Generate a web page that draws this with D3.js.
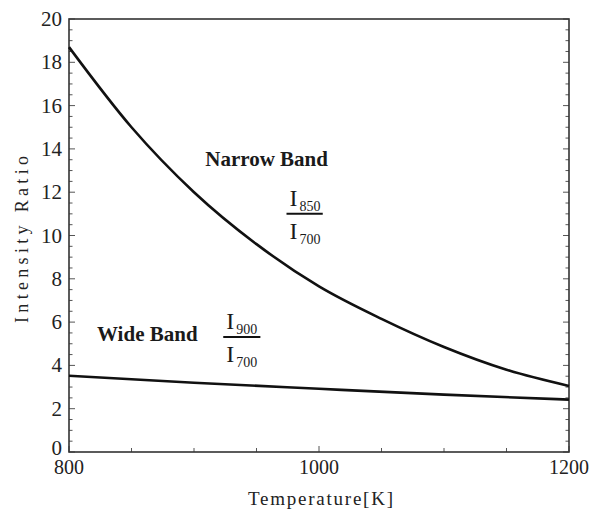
<!DOCTYPE html>
<html>
<head>
<meta charset="utf-8">
<script src="https://cdn.jsdelivr.net/npm/d3@7"></script>
<style>
  body { margin: 0; background: #fff; }
  svg { display: block; }
  .serif { font-family: "Liberation Serif", "Times New Roman", serif; }
</style>
</head>
<body>
<div id="chart"></div>
<script>
// values
var temps = [800, 850, 900, 950, 1000, 1050, 1100, 1150, 1200];
var narrowBand = [18.7, 15.0, 12.0, 9.6, 7.65, 6.15, 4.85, 3.8, 3.05];
var wideTemps = [800, 900, 1000, 1100, 1200];
var wideBand = [3.52, 3.2, 2.92, 2.65, 2.42];
var xTicks = [800, 1000, 1200];
var yTicks = [0, 2, 4, 6, 8, 10, 12, 14, 16, 18, 20];

var width = 601;
var height = 510;
var margin = { top: 19, right: 32, bottom: 58, left: 69 };

var svg = d3
  .select("#chart")
  .append("svg")
  .attr("width", width)
  .attr("height", height);

var x = d3
  .scaleLinear()
  .domain([800, 1200])
  .range([margin.left, width - margin.right]);
var y = d3
  .scaleLinear()
  .domain([0, 20])
  .range([height - margin.bottom, margin.top]);

var frameColor = "#333";

// minor ticks, inward on every side with an axis
var yMinor = d3.range(0, 20.01, 0.5);
var xMinor = d3.range(800, 1200.01, 50);

svg
  .selectAll(".ytick")
  .data(yMinor)
  .enter()
  .append("g")
  .each(function(d) {
    var len = d % 2 == 0 ? 6 : 3.5;
    var g = d3.select(this);
    g.append("line")
      .attr("x1", x(800))
      .attr("x2", x(800) + len)
      .attr("y1", y(d))
      .attr("y2", y(d));
    g.append("line")
      .attr("x1", x(1200))
      .attr("x2", x(1200) - len)
      .attr("y1", y(d))
      .attr("y2", y(d));
  })
  .selectAll("line")
  .attr("stroke", "#555")
  .attr("stroke-width", 1);

svg
  .selectAll(".xtick")
  .data(xMinor)
  .enter()
  .append("line")
  .attr("x1", function(d) { return x(d); })
  .attr("x2", function(d) { return x(d); })
  .attr("y1", y(0))
  .attr("y2", function(d) { return y(0) - (d % 200 == 0 ? 6 : 4); })
  .attr("stroke", "#555")
  .attr("stroke-width", 1);

// frame
svg
  .append("rect")
  .attr("x", x(800))
  .attr("y", y(20))
  .attr("width", x(1200) - x(800))
  .attr("height", y(0) - y(20))
  .attr("fill", "none")
  .attr("stroke", frameColor)
  .attr("stroke-width", 1.6);

// tick labels
svg
  .selectAll(".ylab")
  .data(yTicks)
  .enter()
  .append("text")
  .attr("class", "serif")
  .attr("x", x(800) - 7)
  .attr("y", function(d) { return y(d) + (d == 0 ? 3 : 7); })
  .attr("text-anchor", "end")
  .attr("font-size", 21)
  .attr("fill", "#222")
  .text(function(d) { return d; });

svg
  .selectAll(".xlab")
  .data(xTicks)
  .enter()
  .append("text")
  .attr("class", "serif")
  .attr("x", function(d) { return x(d); })
  .attr("y", y(0) + 22)
  .attr("text-anchor", "middle")
  .attr("font-size", 20)
  .attr("fill", "#222")
  .text(function(d) { return d; });

// axis titles
svg
  .append("text")
  .attr("class", "serif")
  .attr("transform", "translate(28," + (y(10) + 4) + ") rotate(-90)")
  .attr("text-anchor", "middle")
  .attr("font-size", 18)
  .attr("textLength", 167)
  .attr("lengthAdjust", "spacing")
  .attr("fill", "#222")
  .text("Intensity Ratio");

svg
  .append("text")
  .attr("class", "serif")
  .attr("x", 248)
  .attr("y", 505)
  .attr("font-size", 19)
  .attr("textLength", 145)
  .attr("lengthAdjust", "spacing")
  .attr("fill", "#222")
  .text("Temperature[K]");

// curves
var line = d3
  .line()
  .x(function(d) { return x(d[0]); })
  .y(function(d) { return y(d[1]); })
  .curve(d3.curveMonotoneX);

svg
  .append("path")
  .datum(d3.zip(temps, narrowBand))
  .attr("d", line)
  .attr("fill", "none")
  .attr("stroke", "#111")
  .attr("stroke-width", 2.6);

svg
  .append("path")
  .datum(d3.zip(wideTemps, wideBand))
  .attr("d", line)
  .attr("fill", "none")
  .attr("stroke", "#111")
  .attr("stroke-width", 2.6);

// annotations (placed in data units)
function bandLabel(t, v, txt) {
  svg
    .append("text")
    .attr("class", "serif")
    .attr("x", x(t))
    .attr("y", y(v))
    .attr("font-weight", "bold")
    .attr("font-size", 21)
    .attr("fill", "#1a1a1a")
    .text(txt);
}

function ratio(t0, t1, v, top, bottom) {
  var x0 = x(t0);
  var x1 = x(t1);
  var yl = y(v);
  svg
    .append("line")
    .attr("x1", x0)
    .attr("x2", x1)
    .attr("y1", yl)
    .attr("y2", yl)
    .attr("stroke", "#111")
    .attr("stroke-width", 2);

  [[top, yl - 8], [bottom, yl + 25]].forEach(function(p) {
    var tx = svg
      .append("text")
      .attr("class", "serif")
      .attr("x", x0 + 3)
      .attr("y", p[1])
      .attr("font-size", 24)
      .attr("fill", "#1a1a1a");
    tx.append("tspan").text("I");
    tx.append("tspan")
      .attr("font-size", 14)
      .attr("dx", 2)
      .attr("dy", 5)
      .text(p[0]);
  });
}

bandLabel(909, 13.2, "Narrow Band");
ratio(974, 1003, 11.0, "850", "700");
bandLabel(822.4, 5.13, "Wide Band");
ratio(923.4, 953.1, 5.31, "900", "700");
</script>
</body>
</html>
